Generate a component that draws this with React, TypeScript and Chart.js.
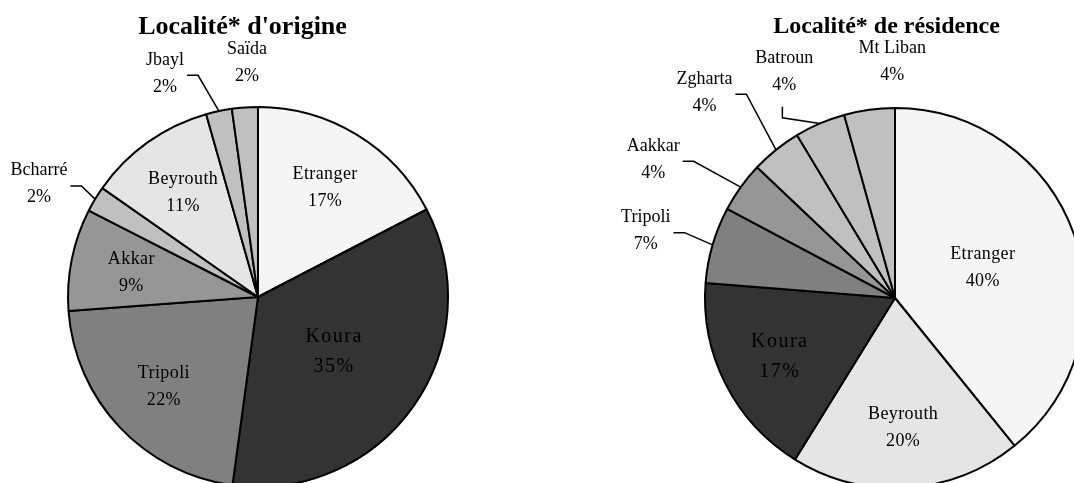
import { useEffect, useRef } from "react";
import { Chart, registerables } from "chart.js";

Chart.register(...registerables);

// ---------- data ----------
const originTitle = "Localité* d'origine";
const originLabels = ["Etranger", "Koura", "Tripoli", "Akkar", "Bcharré", "Beyrouth", "Jbayl", "Saïda"];
const originValues = [17.4, 34.8, 21.7, 8.7, 2.2, 10.9, 2.2, 2.2];
const originPct = ["17%", "35%", "22%", "9%", "2%", "11%", "2%", "2%"];

const residenceTitle = "Localité* de résidence";
const residenceLabels = ["Etranger", "Beyrouth", "Koura", "Tripoli", "Aakkar", "Zgharta", "Batroun", "Mt Liban"];
const residenceValues = [39.1, 19.6, 17.4, 6.5, 4.3, 4.3, 4.3, 4.3];
const residencePct = ["40%", "20%", "17%", "7%", "4%", "4%", "4%", "4%"];

// ---------- styles ----------
const originColors = ["#f5f5f5", "#333333", "#808080", "#969696", "#c0c0c0", "#e5e5e5", "#c0c0c0", "#c0c0c0"];
const residenceColors = ["#f5f5f5", "#e5e5e5", "#333333", "#808080", "#969696", "#c0c0c0", "#c0c0c0", "#c0c0c0"];

// outside label layout per slice: [radius factor, angle shift (deg), leader line]
type Out = [number, number, boolean] | null;
const originOutside: Out[] = [null, null, null, null, [1.3, -3.5, true], null, [1.28, -10.6, true], [1.24, 1.3, false]];
const residenceOutside: Out[] = [null, null, null, [1.36, -0.9, true], [1.47, -5.7, true], [1.48, -3.9, true], [1.33, -2.7, true], [1.25, 7.1, false]];

const FONT = "'Liberation Serif', 'Times New Roman', serif";

interface Cfg {
  title: string;
  titleX: number;
  titleY: number;
  titleSize: number;
  labels: string[];
  values: number[];
  pct: string[];
  outside: Out[];
}

function makePlugin(cfg: Cfg) {
  return {
    id: "pieLabels",
    afterDraw(chart: any) {
      const ctx: CanvasRenderingContext2D = chart.ctx;
      const meta = chart.getDatasetMeta(0);
      const total = cfg.values.reduce((a, b) => a + b, 0);
      ctx.save();
      ctx.fillStyle = "#000";
      ctx.strokeStyle = "#000";
      meta.data.forEach((arc: any, i: number) => {
        const p = arc.getProps(["x", "y", "startAngle", "endAngle", "outerRadius"], true);
        const mid = (p.startAngle + p.endAngle) / 2;
        const R = p.outerRadius;
        const share = cfg.values[i] / total;
        const out = cfg.outside[i];
        let f: number, ang: number;
        if (out) {
          f = out[0];
          ang = mid + (out[1] * Math.PI) / 180;
        } else {
          f = share > 0.3 ? 0.49 : 0.68;
          ang = mid;
        }
        const ax = p.x + Math.cos(ang) * R * f;
        const ay = p.y + Math.sin(ang) * R * f;
        const spaced = !out && cfg.labels[i] === "Koura";
        const size = spaced ? 20 : 18;
        const lh = size * 1.5;
        ctx.font = `${size}px ${FONT}`;
        (ctx as any).letterSpacing = spaced ? "1.5px" : out ? "0px" : "0.4px";
        ctx.textAlign = "center";
        ctx.textBaseline = "alphabetic";
        const b1 = ay + 6 - lh / 2;
        const b2 = ay + 6 + lh / 2;
        ctx.fillText(cfg.labels[i], ax, b1);
        ctx.fillText(cfg.pct[i], ax, b2);
        const w = Math.max(ctx.measureText(cfg.labels[i]).width, ctx.measureText(cfg.pct[i]).width);
        if (out && out[2]) {
          const ex = p.x + Math.cos(mid) * R;
          const ey = p.y + Math.sin(mid) * R;
          const boxRight = ax + w / 2;
          const boxBottom = b2 + 4;
          const hGap = ex - boxRight;
          const vGap = ey - boxBottom;
          ctx.lineWidth = 1.5;
          ctx.beginPath();
          if (hGap >= vGap) {
            const sx = boxRight + 3;
            const sy = ay + 3;
            ctx.moveTo(sx, sy);
            ctx.lineTo(sx + 11, sy);
          } else {
            const sx = ax - 2;
            const sy = ay + 36;
            ctx.moveTo(sx, sy);
            ctx.lineTo(sx, sy + 11);
          }
          ctx.lineTo(ex, ey);
          ctx.stroke();
        }
      });
      // title
      ctx.font = `bold ${cfg.titleSize}px ${FONT}`;
      (ctx as any).letterSpacing = "0px";
      ctx.textAlign = "center";
      ctx.textBaseline = "alphabetic";
      ctx.fillText(cfg.title, cfg.titleX, cfg.titleY);
      ctx.restore();
    },
  };
}

function buildChart(
  canvas: HTMLCanvasElement,
  cfg: Cfg,
  colors: string[],
  padding: { left: number; right: number; top: number; bottom: number }
) {
  return new Chart(canvas, {
    type: "pie",
    data: {
      labels: cfg.labels,
      datasets: [
        {
          data: cfg.values,
          backgroundColor: colors,
          borderColor: "#000",
          borderWidth: 2,
          hoverOffset: 0,
          offset: 0,
        } as any,
      ],
    },
    options: {
      responsive: false,
      animation: false,
      devicePixelRatio: 1,
      events: [],
      layout: { padding },
      plugins: {
        legend: { display: false },
        tooltip: { enabled: false },
        title: { display: false },
      },
    },
    plugins: [makePlugin(cfg) as any],
  });
}

export default function App() {
  const leftRef = useRef<HTMLCanvasElement | null>(null);
  const rightRef = useRef<HTMLCanvasElement | null>(null);

  useEffect(() => {
    const left = buildChart(
      leftRef.current!,
      {
        title: originTitle,
        titleX: 242.5,
        titleY: 34,
        titleSize: 26,
        labels: originLabels,
        values: originValues,
        pct: originPct,
        outside: originOutside,
      },
      originColors,
      { left: 67, right: 88, top: 106, bottom: 12 }
    );
    const right = buildChart(
      rightRef.current!,
      {
        title: residenceTitle,
        titleX: 349.5,
        titleY: 33,
        titleSize: 24,
        labels: residenceLabels,
        values: residenceValues,
        pct: residencePct,
        outside: residenceOutside,
      },
      residenceColors,
      { left: 167, right: 11, top: 107, bottom: 11 }
    );
    return () => {
      left.destroy();
      right.destroy();
    };
  }, []);

  return (
    <div
      style={{
        position: "fixed",
        left: 0,
        top: 0,
        width: 1074,
        height: 483,
        overflow: "hidden",
        background: "#fff",
      }}
    >
      <canvas ref={leftRef} width={537} height={500} style={{ position: "absolute", left: 0, top: 0 }} />
      <canvas ref={rightRef} width={560} height={500} style={{ position: "absolute", left: 537, top: 0 }} />
    </div>
  );
}
